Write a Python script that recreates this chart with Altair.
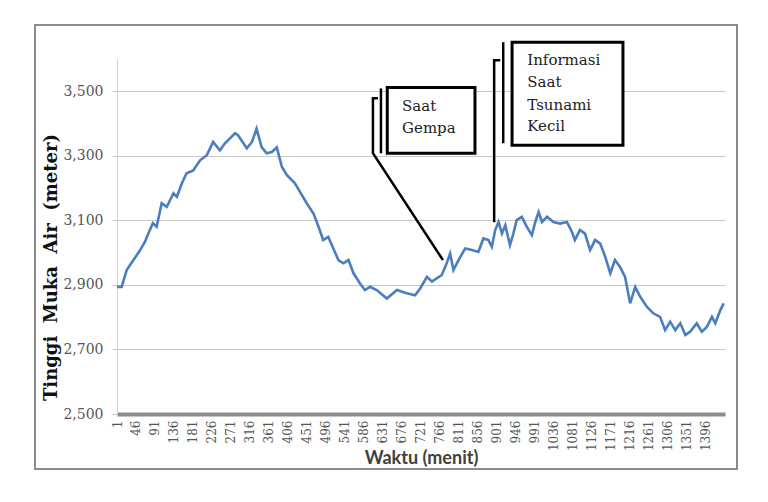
import altair as alt
import pandas as pd

# Water level series (minute, metres)
minutes = [1, 12, 24, 40, 56, 67, 79, 86, 95, 107, 119, 135, 143, 155, 166, 182, 198, 214,
           229, 245, 257, 269, 281, 288, 309, 321, 332, 344, 356, 368, 380, 392, 404, 423,
           435, 451, 467, 479, 490, 502, 514, 526, 538, 550, 562, 577, 589, 601, 617, 641,
           665, 688, 708, 720, 736, 748, 759, 771, 783, 791, 799, 811, 827, 843, 858, 870,
           882, 890, 898, 906, 914, 922, 933, 941, 949, 961, 973, 985, 993, 1001, 1009,
           1021, 1036, 1052, 1068, 1080, 1087, 1099, 1111, 1123, 1135, 1147, 1159, 1171,
           1182, 1194, 1206, 1218, 1230, 1242, 1258, 1273, 1289, 1301, 1313, 1325, 1337,
           1349, 1360, 1376, 1388, 1400, 1412, 1420, 1432, 1440]
levels = [2894, 2894, 2946, 2977, 3008, 3033, 3070, 3091, 3080, 3153, 3142, 3184, 3173, 3215,
          3246, 3255, 3286, 3302, 3343, 3317, 3339, 3354, 3370, 3364, 3323, 3343, 3384, 3327,
          3308, 3312, 3326, 3266, 3240, 3215, 3188, 3153, 3121, 3080, 3039, 3049, 3013, 2977,
          2967, 2977, 2936, 2905, 2884, 2894, 2884, 2858, 2884, 2874, 2868, 2889, 2925, 2910,
          2920, 2930, 2967, 2997, 2946, 2977, 3013, 3008, 3002, 3044, 3039, 3018, 3070, 3095,
          3059, 3085, 3023, 3059, 3101, 3111, 3080, 3054, 3095, 3126, 3095, 3111, 3095, 3090,
          3095, 3064, 3039, 3070, 3059, 3008, 3039, 3028, 2987, 2936, 2977, 2956, 2925, 2843,
          2894, 2863, 2832, 2812, 2801, 2760, 2786, 2760, 2781, 2745, 2755, 2781, 2755, 2770,
          2801, 2781, 2822, 2843]

x_tick_values = [1, 46, 91, 136, 181, 226, 271, 316, 361, 406, 451, 496, 541, 586, 631, 676,
                 721, 766, 811, 856, 901, 946, 991, 1036, 1081, 1126, 1171, 1216, 1261, 1306,
                 1351, 1396]
y_tick_values = [2500, 2700, 2900, 3100, 3300, 3500]

# Callouts (in data units: minutes, metres)
box_x = [642, 938]
box_x2 = [850, 1201]
box_y = [3512, 3652]
box_y2 = [3308, 3333]

text_labels = ["Saat", "Gempa", "Informasi", "Saat", "Tsunami", "Kecil"]
text_m = [677, 677, 974, 974, 974, 974]
text_v = [3454, 3385, 3596, 3528, 3457, 3392]

path_id = [1, 1, 1, 1, 2, 2, 2, 3, 3, 4, 4]
path_ord = [0, 1, 2, 3, 0, 1, 2, 0, 1, 0, 1]
path_m = [620, 608, 608, 774, 910, 895.5, 895.5, 627, 627, 917, 917]
path_v = [3478, 3478, 3308, 2977, 3596, 3596, 3094, 3509, 3308, 3652, 3339]

df = pd.DataFrame({"menit": minutes, "tinggi": levels})
boxes = pd.DataFrame({"x": box_x, "x2": box_x2, "y": box_y, "y2": box_y2})
texts = pd.DataFrame({"t": text_labels, "m": text_m, "v": text_v})
paths = pd.DataFrame({"id": path_id, "ord": path_ord, "m": path_m, "v": path_v})

xs = alt.Scale(domain=[1, 1443], nice=False, zero=False)
ys = alt.Scale(domain=[2500, 3600], nice=False, zero=False)

NB = "\u00a0"
y_title = f"Tinggi{NB}{NB}Muka{NB}{NB}Air{NB}{NB}(meter)"

frame = alt.Chart(alt.Data(values=[{"a": 1}])).mark_rect(
    filled=False, stroke="#8c8c8c", strokeWidth=2
).encode(x=alt.value(-82), x2=alt.value(620), y=alt.value(-34), y2=alt.value(410))

line = alt.Chart(df).mark_line(color="#4a7ebf", strokeWidth=2.6).encode(
    x=alt.X("menit:Q", scale=xs,
            axis=alt.Axis(values=x_tick_values, tickCount=40, format="d", labelAngle=-90,
                          labelFont="DejaVu Serif",
                          labelFontSize=12, labelColor="#555555", labelPadding=6,
                          ticks=False, tickSize=0, grid=False,
                          domainColor="#8c8c8c", domainWidth=4,
                          labelOverlap=False, labelFlush=False,
                          title="Waktu (menit)", titleFont="Lato", titleFontSize=18,
                          titleFontWeight="bold", titleColor="#404040",
                          titleY=44, titleBaseline="middle")),
    y=alt.Y("tinggi:Q", scale=ys,
            axis=alt.Axis(values=y_tick_values, tickCount=6, format=",d",
                          labelFont="DejaVu Serif",
                          labelFontSize=14, labelColor="#555555", labelPadding=9,
                          tickSize=5, tickColor="#c8c8c8", domainColor="#d0d0d0",
                          gridColor="#c8c8c8", gridWidth=1,
                          title=y_title, titleFont="DejaVu Serif",
                          titleFontSize=18, titleFontWeight="bold", titleColor="#111111",
                          titleAngle=-90, titleX=-66, titleY=208,
                          titleBaseline="middle", titleAlign="center")),
)

leaders = alt.Chart(paths).mark_line(color="#000000", strokeWidth=2.5).encode(
    x=alt.X("m:Q", scale=xs), y=alt.Y("v:Q", scale=ys),
    detail="id:N", order="ord:Q"
)

box_layer = alt.Chart(boxes).mark_rect(fill="white", stroke="#000000", strokeWidth=3).encode(
    x=alt.X("x:Q", scale=xs), x2="x2:Q",
    y=alt.Y("y:Q", scale=ys), y2="y2:Q"
)

text_layer = alt.Chart(texts).mark_text(
    align="left", baseline="middle", font="DejaVu Serif", fontSize=15, color="#222222"
).encode(x=alt.X("m:Q", scale=xs), y=alt.Y("v:Q", scale=ys), text="t:N")

chart = alt.layer(frame, line, leaders, box_layer, text_layer).properties(
    width=608, height=355,
    autosize=alt.AutoSizeParams(type="none"),
    padding={"left": 117, "top": 59, "right": 43, "bottom": 88},
    background="white"
).configure_view(stroke=None)

chart.save("out.html", embed_options={"renderer": "svg", "actions": False})
